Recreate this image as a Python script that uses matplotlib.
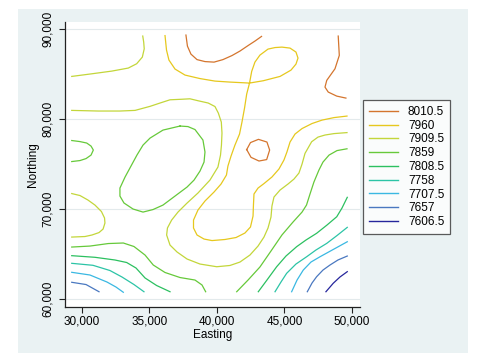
import matplotlib
matplotlib.use('Agg')
import matplotlib.pyplot as plt
from matplotlib.lines import Line2D
from matplotlib.patches import Rectangle

plt.rcParams['font.family'] = ['Liberation Sans', 'DejaVu Sans']

# contour levels (top of legend first) and their line colours
levels = [8010.5, 7960, 7909.5, 7859, 7808.5, 7758, 7707.5, 7657, 7606.5]
level_labels = ['8010.5', '7960', '7909.5', '7859', '7808.5', '7758', '7707.5', '7657', '7606.5']
level_colors = ['#d4752e', '#e6c81e', '#c3d63a', '#66c93a', '#2cc060',
                '#2cc4a6', '#3ab8e2', '#4a78c0', '#26269c']

xticks = [30000, 35000, 40000, 45000, 50000]
xtick_labels = ['30,000', '35,000', '40,000', '45,000', '50,000']
yticks = [60000, 70000, 80000, 90000]
ytick_labels = ['60,000', '70,000', '80,000', '90,000']

# contour lines, (easting, northing)
c8010_peak = [(37700, 89360), (37810, 88130), (38070, 87240), (38520, 86630), (39110, 86410),
              (39780, 86350), (40440, 86630), (41110, 87080), (41700, 87580), (42300, 88190),
              (42810, 88690), (43300, 89210)]
c8010_ne = [(48980, 89250), (49060, 87100), (48740, 85610), (48130, 84320), (48000, 83570),
            (48240, 83020), (48870, 82570), (49550, 82350)]
c8010_ring = [(42200, 76620), (42480, 77400), (43070, 77760), (43700, 77460), (43900, 76570),
              (43680, 75510), (43110, 75350), (42520, 75760), (42200, 76620)]

c7960 = [(36150, 89300), (36260, 87690), (36440, 86580), (36890, 85580), (37630, 84910),
         (38740, 84520), (39850, 84240), (40960, 84130), (42410, 84020),
         (42570, 85320), (42810, 86350), (43180, 87130), (43780, 87800), (44300, 87970),
         (44810, 88020), (45410, 87910), (45850, 87470), (46000, 86800), (45850, 86130),
         (45480, 85460), (44670, 84760), (43430, 84280), (42410, 84020),
         (42200, 82800), (42040, 81240), (41850, 79680), (41670, 78350), (41330, 77120),
         (41040, 75900), (40810, 74790), (40700, 73790), (40300, 72790), (39780, 71900),
         (39110, 70900), (38590, 69900), (38260, 68780), (38260, 67900), (38520, 67120),
         (39040, 66670), (39630, 66500), (40590, 66620), (41410, 66840), (42070, 67340),
         (42480, 68010), (42670, 69230), (42700, 70450), (42740, 71680), (43040, 72340),
         (43480, 72840), (44070, 73570), (44590, 74460), (44960, 75460), (45180, 76350),
         (45410, 77460), (45780, 78350), (46300, 78960), (47040, 79520), (47780, 79900),
         (48670, 80180), (49630, 80350)]

c7909_nw = [(29240, 84760), (30720, 85050), (32200, 85350), (33430, 85690), (34050, 86170),
            (34470, 86910), (34610, 87830), (34570, 88580), (34500, 89250)]
c7909 = [(29240, 80980), (31210, 80910), (32810, 80910), (33930, 80980), (35040, 81430),
         (35780, 81800), (36520, 82160), (37390, 82220), (38000, 82270), (38610, 82050),
         (39350, 81800), (39850, 81410), (40100, 80680), (40320, 79680), (40370, 78460),
         (40330, 77120), (40260, 76010), (40070, 74680), (39480, 73230), (38590, 71790),
         (37760, 70640), (37110, 69670), (36640, 68780), (36330, 67900), (36270, 67120),
         (36520, 66000), (37040, 65230), (37780, 64450), (38740, 63890), (39980, 63590),
         (40960, 63730), (41700, 64110), (42440, 64890), (43040, 65890), (43480, 66890),
         (43780, 67900), (44000, 69120), (44070, 70340), (44220, 71340), (44670, 72120),
         (45260, 72790), (45700, 73340), (46070, 74010), (46300, 75010), (46520, 76200),
         (47010, 77490), (47480, 78010), (48000, 78240), (48670, 78400), (49630, 78510)]
c7909_w = [(29240, 71730), (29850, 71510), (30440, 71010), (30960, 70450), (31440, 69730),
           (31670, 69010), (31700, 68450), (31560, 67780), (31260, 67390), (30740, 67120),
           (30220, 66950), (29240, 66890)]

c7859_oval = [(37260, 79240), (37850, 79180), (38370, 78850), (38960, 77680), (39110, 76350),
              (39040, 75230), (38740, 74230), (38300, 73230), (37780, 72450), (36890, 71450),
              (36000, 70450), (35260, 69950), (34520, 69670), (33780, 70010), (33110, 70680),
              (32810, 71450), (32810, 72340), (33190, 73570), (33630, 74790), (34070, 76010),
              (34520, 77120), (35040, 77900), (36000, 78790), (37260, 79240)]
c7859_w = [(29240, 77630), (29850, 77510), (30350, 77350), (30670, 77010), (30840, 76570),
           (30670, 76010), (30300, 75620), (29850, 75400), (29240, 75290)]
c7859_sw = [(29240, 65780), (30590, 65890), (31950, 66170), (33060, 66230), (33850, 65840),
            (34670, 64890), (35280, 63780), (36150, 62950), (37260, 62390), (38370, 62110),
            (38890, 61560), (39160, 60810)]
c7859_se = [(41460, 60810), (42300, 62110), (43180, 63560), (44000, 65340), (44810, 67120),
            (45630, 68560), (46300, 69670), (46630, 70450), (46890, 71680), (47180, 73010),
            (47550, 74340), (47850, 75230), (48300, 76010), (48890, 76510), (49630, 76710)]

c7808_sw = [(29240, 64820), (30960, 64640), (32440, 64340), (33310, 64060), (34000, 63450),
            (34670, 62340), (35530, 61500), (36520, 60810)]
c7808_se = [(43060, 60810), (43700, 62110), (44420, 63590), (45110, 64780), (45900, 65820),
            (46590, 66560), (47380, 67310), (48150, 68230), (48870, 69150), (49260, 70120),
            (49650, 71310)]

c7758_sw = [(29240, 63970), (30810, 63750), (32070, 63170), (32960, 62450), (33850, 61610),
            (34590, 60810)]
c7758_se = [(44300, 60810), (44740, 61890), (45160, 62860), (45850, 63890), (46640, 64700),
            (47330, 65450), (48130, 66190), (48890, 67060), (49650, 67970)]

c7707_sw = [(29240, 62970), (30590, 62670), (31850, 61890), (32520, 61330), (33060, 60750)]
c7707_se = [(45530, 60810), (45930, 62110), (46390, 63220), (46960, 64110), (47630, 64700),
            (48670, 65560), (49650, 66370)]

c7657_sw = [(29240, 61860), (30300, 61610), (31260, 60810)]
c7657_se = [(46690, 60810), (47040, 61780), (47380, 62480), (47850, 63220), (48370, 63780),
            (48960, 64340), (49650, 64780)]

c7606_se = [(48070, 60810), (48370, 61330), (48610, 61750), (49110, 62450), (49650, 63040)]

contours = [
    (8010.5, c8010_peak), (8010.5, c8010_ne), (8010.5, c8010_ring),
    (7960, c7960),
    (7909.5, c7909_nw), (7909.5, c7909), (7909.5, c7909_w),
    (7859, c7859_oval), (7859, c7859_w), (7859, c7859_sw), (7859, c7859_se),
    (7808.5, c7808_sw), (7808.5, c7808_se),
    (7758, c7758_sw), (7758, c7758_se),
    (7707.5, c7707_sw), (7707.5, c7707_se),
    (7657, c7657_sw), (7657, c7657_se),
    (7606.5, c7606_se),
]

fig = plt.figure(figsize=(4.88, 3.62), dpi=100)
fig.patch.set_facecolor('white')
# stata style graph region
fig.patches.append(Rectangle((0.0369, 0.0249), 0.9221, 0.9503, transform=fig.transFigure,
                             facecolor='#eaf2f3', edgecolor='none', zorder=-1))

ax = fig.add_axes([0.1332, 0.1519, 0.6045, 0.7873])
ax.set_facecolor('white')

color_of = dict(zip(levels, level_colors))
for lev, pts in contours:
    xs = [p[0] for p in pts]
    ys = [p[1] for p in pts]
    ax.plot(xs, ys, color=color_of[lev], lw=0.9, solid_joinstyle='round', zorder=3)

ax.set_xlim(28741, 50593)
ax.set_ylim(59110, 90812)
ax.set_xticks(xticks)
ax.set_xticklabels(xtick_labels)
ax.set_yticks(yticks)
ax.set_yticklabels(ytick_labels, rotation=90, va='center')
ax.grid(axis='y', color='#e3eaec', lw=0.8, zorder=0)
ax.set_axisbelow(True)

for side in ['top', 'right']:
    ax.spines[side].set_visible(False)
for side in ['left', 'bottom']:
    ax.spines[side].set_color('#222222')
    ax.spines[side].set_linewidth(0.9)
ax.tick_params(direction='out', length=4.5, width=0.8, color='#222222',
               labelsize=8.5, labelcolor='black')
ax.tick_params(axis='x', pad=1.5)
ax.tick_params(axis='y', pad=3.5)
ax.set_xlabel('Easting', fontsize=8.5, labelpad=1)
ax.set_ylabel('Northing', fontsize=8.5, labelpad=2)

handles = [Line2D([0], [0], color=c, lw=1.0) for c in level_colors]
leg = fig.legend(handles, level_labels, loc='upper left',
                 bbox_to_anchor=(363 / 488, 1 - 100 / 362), borderaxespad=0,
                 fontsize=8.5, frameon=True, fancybox=False, handlelength=2.5,
                 handletextpad=0.8, labelspacing=0.15, borderpad=0.5)
leg.get_frame().set_edgecolor('#333333')
leg.get_frame().set_linewidth(0.9)

fig.savefig('out.png', dpi=100, facecolor='white')
